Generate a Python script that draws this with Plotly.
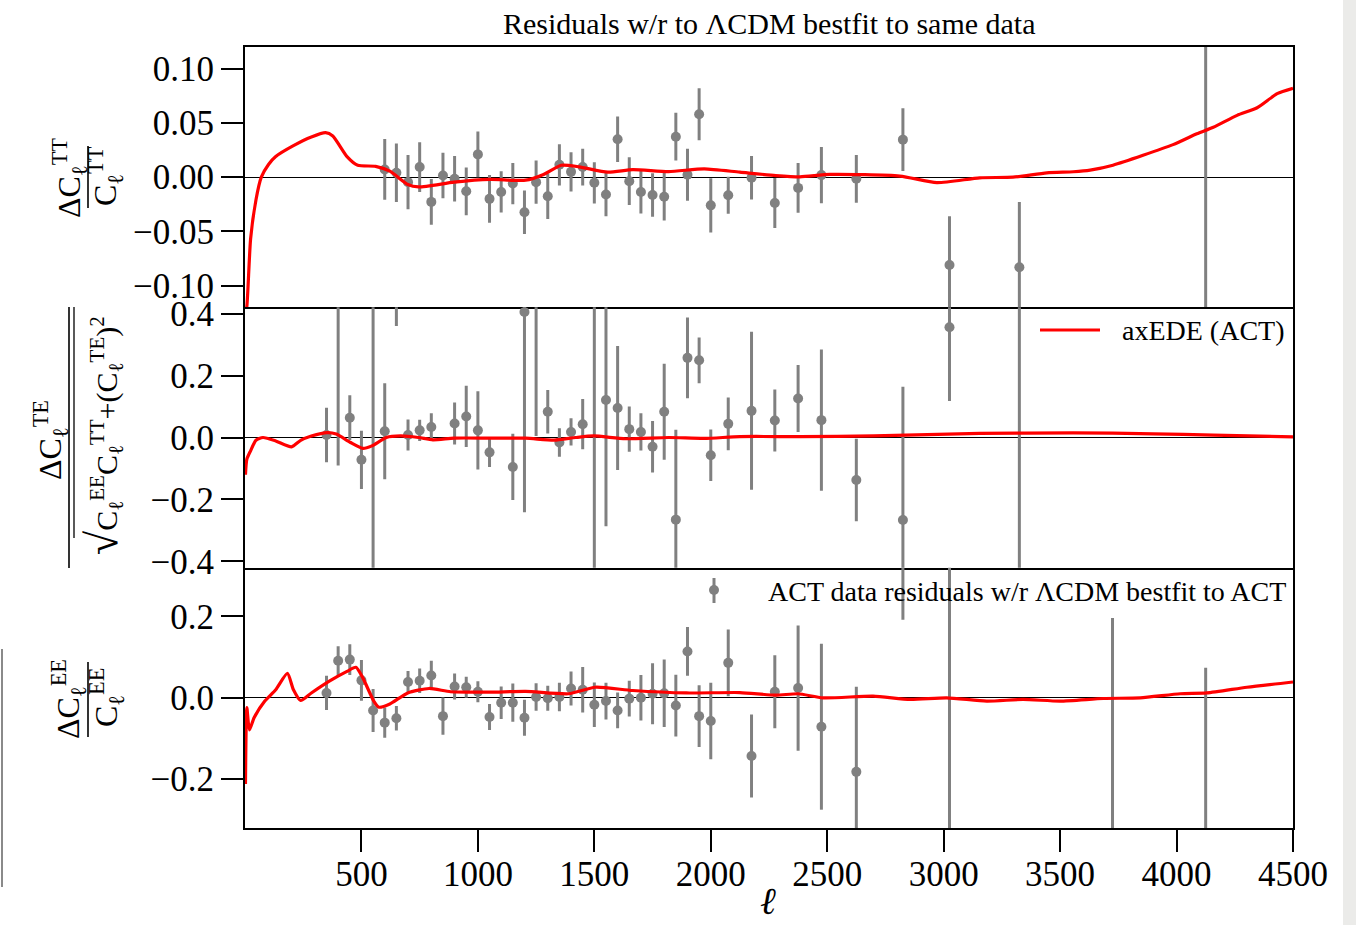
import plotly.graph_objects as go
from plotly.subplots import make_subplots

# ---------------- data ----------------
# ACT data residuals (TT)
ell_tt = [600, 650, 700, 750, 800, 850, 900, 950, 1000, 1050, 1100, 1150, 1200, 1250, 1300,
          1350, 1400, 1450, 1500, 1550, 1600, 1650, 1700, 1750, 1800, 1850, 1900, 1950, 2000,
          2075, 2175, 2275, 2375, 2475, 2625, 2825, 3025, 3325, 4125]
res_tt = [0.0071, 0.0040, -0.0046, 0.0093, -0.0228, 0.0015, -0.0015, -0.0130, 0.0210, -0.0200,
          -0.0136, -0.0059, -0.0324, -0.0046, -0.0176, 0.0114, 0.0049, 0.0093, -0.0052, -0.0160,
          0.0350, -0.0037, -0.0136, -0.0164, -0.0180, 0.0373, 0.0022, 0.0580, -0.0260,
          -0.0167, -0.0006, -0.0238, -0.0099, 0.0019, -0.0015, 0.0346, -0.0810, -0.0830, 0.3000]
err_tt = [0.028, 0.027, 0.025, 0.023, 0.021, 0.021, 0.021, 0.022, 0.021, 0.022,
          0.019, 0.019, 0.020, 0.020, 0.021, 0.019, 0.018, 0.017, 0.019, 0.020,
          0.021, 0.022, 0.020, 0.020, 0.022, 0.022, 0.024, 0.024, 0.025,
          0.017, 0.020, 0.023, 0.023, 0.026, 0.022, 0.029, 0.045, 0.060, 0.600]

# ACT data residuals (TE)
ell_te = [350, 400, 450, 500, 550, 600, 650, 700, 750, 800, 900, 950, 1000, 1050, 1150, 1200,
          1250, 1300, 1350, 1400, 1450, 1500, 1550, 1600, 1650, 1700, 1750, 1800, 1850, 1900,
          1950, 2000, 2075, 2175, 2275, 2375, 2475, 2625, 2825, 3025, 3325]
res_te = [0.008, 0.450, 0.064, -0.072, 0.500, 0.020, 0.600, 0.008, 0.023, 0.034, 0.045, 0.068,
          0.023, -0.048, -0.095, 0.405, 0.500, 0.083, -0.016, 0.018, 0.043, -0.500, 0.121, 0.095,
          0.027, 0.018, -0.030, 0.083, -0.265, 0.257, 0.249, -0.057, 0.044, 0.086, 0.055, 0.126,
          0.056, -0.137, -0.266, 0.356, 0.500]
err_te = [0.088, 0.540, 0.072, 0.094, 1.000, 0.155, 0.240, 0.050, 0.034, 0.044, 0.068, 0.099,
          0.126, 0.047, 0.107, 0.646, 0.495, 0.070, 0.046, 0.044, 0.081, 1.000, 0.407, 0.200,
          0.073, 0.060, 0.083, 0.155, 0.290, 0.130, 0.074, 0.083, 0.085, 0.255, 0.100, 0.108,
          0.228, 0.133, 0.430, 0.238, 1.200]

# ACT data residuals (EE)
ell_ee = [350, 400, 450, 500, 550, 600, 650, 700, 750, 800, 850, 900, 950, 1000, 1050, 1100,
          1150, 1200, 1250, 1300, 1350, 1400, 1450, 1500, 1550, 1600, 1650, 1700, 1750, 1800,
          1850, 1900, 1950, 2000, 2075, 2175, 2275, 2375, 2475, 2625, 2825, 3025, 3725, 4125]
res_ee = [0.012, 0.091, 0.094, 0.043, -0.031, -0.061, -0.050, 0.039, 0.042, 0.055, -0.045,
          0.028, 0.026, 0.015, -0.047, -0.012, -0.012, -0.049, 0.002, -0.001, 0.002, 0.023,
          0.020, -0.017, -0.008, -0.031, -0.002, 0.000, 0.010, 0.011, -0.019, 0.114, -0.045,
          -0.057, 0.086, -0.143, 0.015, 0.024, -0.071, -0.182, 0.450, 0.500, -0.400, -0.500]
err_ee = [0.042, 0.036, 0.038, 0.050, 0.053, 0.037, 0.030, 0.027, 0.030, 0.036, 0.046,
          0.032, 0.026, 0.026, 0.032, 0.040, 0.047, 0.044, 0.034, 0.031, 0.035, 0.042,
          0.056, 0.055, 0.045, 0.044, 0.044, 0.056, 0.075, 0.083, 0.076, 0.060, 0.076,
          0.094, 0.082, 0.102, 0.090, 0.154, 0.204, 0.209, 0.258, 1.000, 0.596, 0.574]

# axEDE (ACT) model residuals
ell_m_tt = [2, 8, 24, 47, 70, 101, 132, 208, 285, 346, 377, 438, 484, 561, 622, 699, 745, 898,
            1052, 1205, 1282, 1358, 1435, 1558, 1665, 1819, 1972, 2125, 2279, 2383, 2512, 2812,
            2971, 3155, 3298, 3443, 3557, 3629, 3727, 3985, 4087, 4158, 4260, 4346, 4432, 4500]
mod_tt = [-0.125, -0.119, -0.057, -0.021, 0.000, 0.0117, 0.019, 0.029, 0.037, 0.041, 0.038,
          0.019, 0.011, 0.010, 0.0055, -0.0067, -0.009, -0.0046, -0.0021, -0.0028, 0.0025,
          0.011, 0.0095, 0.0046, 0.007, 0.0052, 0.0077, 0.0046, 0.0015, 0.0003, 0.0025, 0.001,
          -0.005, -0.0006, 0.000, 0.004, 0.005, 0.0065, 0.011, 0.030, 0.040, 0.046, 0.057,
          0.064, 0.077, 0.082]

ell_m_te = [2, 8, 24, 47, 77, 132, 200, 239, 285, 354, 392, 453, 506, 545, 607, 668, 745, 807,
            898, 1052, 1205, 1327, 1420, 1497, 1634, 1819, 1972, 2125, 2383, 2700, 3155, 3556,
            3900, 4158, 4500]
mod_te = [-0.120, -0.070, -0.043, -0.009, 0.000, -0.011, -0.030, -0.009, 0.005, 0.016, 0.011,
          -0.016, -0.035, -0.027, 0.000, 0.005, 0.000, -0.0075, -0.002, -0.002, -0.002, -0.0086,
          0.000, 0.005, -0.004, 0.000, -0.003, 0.003, 0.003, 0.005, 0.013, 0.015, 0.012, 0.0075,
          0.002]

ell_m_ee = [2, 8, 19, 39, 85, 132, 182, 208, 239, 285, 362, 438, 476, 506, 553, 575, 622, 699,
            790, 883, 1052, 1205, 1389, 1504, 1665, 1895, 2125, 2279, 2375, 2482, 2697, 2856,
            3013, 3185, 3341, 3500, 3686, 3844, 4016, 4130, 4302, 4500]
mod_ee = [-0.212, -0.024, -0.079, -0.049, -0.008, 0.020, 0.060, 0.020, -0.0065, 0.012, 0.041,
          0.065, 0.075, 0.049, -0.008, -0.023, -0.015, 0.012, 0.023, 0.015, 0.014, 0.016, 0.010,
          0.026, 0.018, 0.012, 0.013, 0.0065, 0.010, 0.000, 0.004, -0.004, 0.000, -0.008,
          -0.004, -0.008, -0.0016, 0.000, 0.010, 0.012, 0.026, 0.039]

x_ticks = [500, 1000, 1500, 2000, 2500, 3000, 3500, 4000, 4500]
title_text = "Residuals w/r to \u039bCDM bestfit to same data"
model_label = "axEDE (ACT)"
data_label = "ACT data residuals w/r \u039bCDM bestfit to ACT"

# ---------------- figure ----------------
W, H = 1356, 925
L, R, T, B = 245, 1293, 47, 828
FONT = "Liberation Serif, Times New Roman, serif"
GRAY = "#808080"
RED = "#ff0000"
LW = 1.8


def px(x):
    return (x - L) / (R - L)


def py(y):
    return (B - y) / (B - T)


fig = make_subplots(rows=3, cols=1, shared_xaxes=True, vertical_spacing=0)

panels = [
    (ell_tt, res_tt, err_tt, ell_m_tt, mod_tt),
    (ell_te, res_te, err_te, ell_m_te, mod_te),
    (ell_ee, res_ee, err_ee, ell_m_ee, mod_ee),
]
for i, (le, re, ee, lm, mm) in enumerate(panels, start=1):
    fig.add_trace(go.Scatter(
        x=le, y=re, mode="markers",
        marker=dict(color=GRAY, size=10, line=dict(width=0)),
        error_y=dict(type="data", array=ee, visible=True, thickness=3, width=0, color=GRAY),
        showlegend=False, name=data_label), row=i, col=1)
    fig.add_trace(go.Scatter(
        x=lm, y=mm, mode="lines",
        line=dict(color=RED, width=3.2, shape="spline", smoothing=0.6),
        showlegend=False, name=model_label), row=i, col=1)

yranges = [[-0.12, 0.12], [-0.42, 0.42], [-0.32, 0.32]]
ydticks = [0.05, 0.2, 0.2]
yfmts = [".2f", ".1f", ".1f"]
domains = [[2 / 3, 1.0], [1 / 3, 2 / 3], [0.0, 1 / 3]]
for i in range(3):
    ax = "yaxis" if i == 0 else f"yaxis{i + 1}"
    fig.layout[ax].update(
        range=yranges[i], domain=domains[i], dtick=ydticks[i], tick0=0, tickformat=yfmts[i],
        showgrid=False, zeroline=True, zerolinecolor="black", zerolinewidth=1,
        showline=True, mirror=True, linecolor="black", linewidth=LW,
        ticks="outside", ticklen=22, tickwidth=2, tickcolor="black",
        tickfont=dict(family=FONT, size=35, color="black"))
    xa = "xaxis" if i == 0 else f"xaxis{i + 1}"
    fig.layout[xa].update(
        range=[0, 4500], showgrid=False, zeroline=False,
        showline=True, mirror=(i == 0), linecolor="black", linewidth=LW,
        tickvals=x_ticks, ticktext=[str(v) for v in x_ticks],
        ticks="outside" if i == 2 else "", ticklen=22, tickwidth=2, tickcolor="black",
        showticklabels=(i == 2),
        tickfont=dict(family=FONT, size=35, color="black"))
fig.layout.xaxis3.ticklabelstandoff = -8

shapes = []
annots = []

# title
annots.append(dict(text=title_text, x=px(769), y=py(24), xref="paper", yref="paper",
                   showarrow=False, xanchor="center", yanchor="middle",
                   font=dict(family=FONT, size=30, color="black")))
# x label
annots.append(dict(text="<i>\u2113</i>", x=px(768), y=py(925), xref="paper", yref="paper",
                   showarrow=False, xanchor="center", yanchor="bottom",
                   font=dict(family="DejaVu Serif, serif", size=38, color="black")))

# legends (drawn)
shapes.append(dict(type="line", xref="paper", yref="paper", x0=px(1040), x1=px(1100),
                   y0=py(330), y1=py(330), line=dict(color=RED, width=3.2)))
annots.append(dict(text=model_label, x=px(1120), y=py(330), xref="paper", yref="paper",
                   showarrow=False, xanchor="left", yanchor="middle",
                   font=dict(family=FONT, size=28, color="black")))
shapes.append(dict(type="line", xref="paper", yref="paper", x0=px(714), x1=px(714),
                   y0=py(578), y1=py(603), line=dict(color=GRAY, width=3)))
shapes.append(dict(type="circle", xref="paper", yref="paper", x0=px(709), x1=px(719),
                   y0=py(585), y1=py(595), fillcolor=GRAY, line=dict(width=0)))
annots.append(dict(text=data_label, x=px(766), y=py(591), xref="paper", yref="paper",
                   showarrow=False, xanchor="left", yanchor="middle",
                   font=dict(family=FONT, size=28, color="black")))


# y labels (fractions, rotated)
def rot(text, x, y, size):
    annots.append(dict(text=text, x=px(x), y=py(y), xref="paper", yref="paper",
                       showarrow=False, xanchor="center", yanchor="middle", textangle=-90,
                       font=dict(family=FONT, size=size, color="black")))


def vline(x, y0, y1, w=1.6, color="black"):
    shapes.append(dict(type="line", xref="paper", yref="paper", x0=px(x), x1=px(x),
                       y0=py(y0), y1=py(y1), line=dict(color=color, width=w)))


# TT
rot("\u0394C<sub>\u2113</sub><sup>TT</sup>", 70, 178, 32)
vline(88, 146, 208)
rot("C<sub>\u2113</sub><sup>TT</sup>", 105, 176, 32)
# TE
rot("\u0394C<sub>\u2113</sub><sup>TE</sup>", 50, 440, 32)
vline(69, 307, 568)
rot("<span style=\"font-size:44px\">\u221a</span>C<sub>\u2113</sub><sup>EE</sup>C<sub>\u2113</sub><sup>TT</sup>+(C<sub>\u2113</sub><sup>TE</sup>)<sup>2</sup>",
    103, 436, 30)
vline(74, 307, 538, w=1.3)
# EE
rot("\u0394C<sub>\u2113</sub><sup>EE</sup>", 68, 699, 32)
vline(88, 662, 737)
rot("C<sub>\u2113</sub><sup>EE</sup>", 106, 698, 32)

# page artefacts at the edges of the crop
shapes.append(dict(type="rect", xref="paper", yref="paper", x0=px(1343), x1=px(1356),
                   y0=py(0), y1=py(925), fillcolor="#ebebe9", line=dict(width=0), layer="below"))
vline(2, 649, 887, w=2, color="#8a8a8a")

fig.update_layout(
    width=W, height=H, margin=dict(l=L, r=W - R, t=T, b=H - B),
    paper_bgcolor="white", plot_bgcolor="white",
    shapes=shapes, annotations=annots, showlegend=False,
    font=dict(family=FONT, color="black"))

fig.write_html("out.html")
